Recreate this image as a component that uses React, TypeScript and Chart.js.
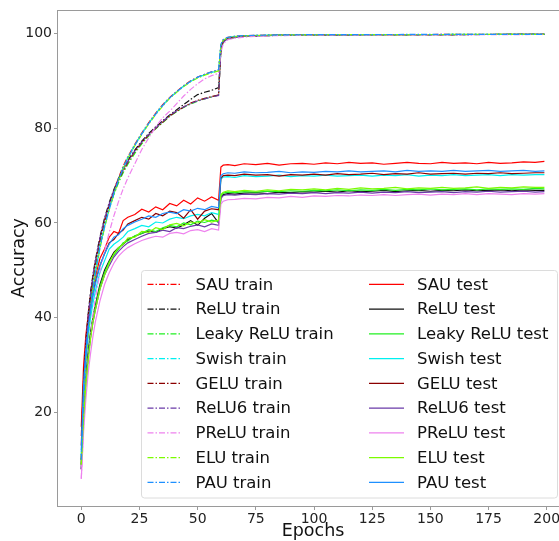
import React, { useEffect, useRef } from 'react';
import { Chart, registerables } from 'chart.js';

Chart.register(...registerables);

const FONT = '"DejaVu Sans", "Liberation Sans", sans-serif';

const EPOCHS = [0, 1, 2, 3, 4, 5, 6, 8, 10, 12, 14, 16, 18, 20, 23, 26, 29, 32, 35, 38, 41, 44, 47, 50, 53, 56, 59,
  60, 61, 63, 66, 70, 75, 80, 85, 90, 95, 100, 105, 110, 115, 120, 125, 130, 135, 140, 145, 150, 155, 160, 165, 170, 175, 180, 185, 190, 195, 199];

const X_TICKS = [0, 25, 50, 75, 100, 125, 150, 175, 200];
const Y_TICKS = [20, 40, 60, 80, 100];

const NAMES = ['SAU', 'ReLU', 'Leaky ReLU', 'Swish', 'GELU', 'ReLU6', 'PReLU', 'ELU', 'PAU'];
const COLORS = ['#ff0000', '#111111', '#22f022', '#00f0f0', '#8b0000', '#6a3aa8', '#ee82ee', '#7cfc00', '#1e90ff'];

// ---- train accuracy ----
const SAU_TRAIN = [15, 27, 34.5, 40, 44.5, 48, 51, 56, 60, 63.5, 66.8, 69.5, 72, 74, 76.6, 79, 81.2, 83.2, 85, 86.5, 87.8, 89, 90, 90.8, 91.4, 91.9, 92.3,
  97.6, 98.7, 99.2, 99.4, 99.55, 99.6, 99.65, 99.7, 99.7, 99.72, 99.74, 99.75, 99.75, 99.76, 99.77, 99.77, 99.78, 99.78, 99.78, 99.79, 99.79, 99.8, 99.8, 99.8, 99.8, 99.8, 99.81, 99.81, 99.81, 99.82, 99.82];
const RELU_TRAIN = [9, 26, 35, 41, 45.5, 49, 52, 57, 61, 64.3, 67, 69.4, 71.5, 73.2, 75.4, 77.3, 78.9, 80.3, 81.6, 82.8, 83.9, 85, 86.1, 87.1, 87.6, 88, 88.6,
  96.5, 98.3, 98.9, 99.2, 99.4, 99.5, 99.55, 99.6, 99.65, 99.68, 99.7, 99.7, 99.72, 99.73, 99.74, 99.75, 99.75, 99.76, 99.76, 99.77, 99.77, 99.78, 99.78, 99.78, 99.79, 99.79, 99.79, 99.8, 99.8, 99.8, 99.8];
const LEAKY_TRAIN = [10, 23, 32, 38.5, 43.3, 47.2, 50.3, 55.5, 59.7, 63.2, 66, 68.5, 70.6, 72.4, 74.7, 76.7, 78.4, 79.9, 81.2, 82.5, 83.5, 84.4, 85.1, 85.7, 86.2, 86.6, 87,
  96.8, 98.4, 99, 99.25, 99.42, 99.52, 99.58, 99.62, 99.66, 99.68, 99.7, 99.71, 99.72, 99.73, 99.74, 99.75, 99.75, 99.76, 99.77, 99.77, 99.78, 99.78, 99.78, 99.79, 99.79, 99.79, 99.8, 99.8, 99.8, 99.8, 99.81];
const SWISH_TRAIN = [11, 24, 32, 38, 42.5, 46, 49.5, 55, 59.3, 63, 66.3, 69.2, 71.7, 73.8, 76.5, 78.9, 81.1, 83.1, 84.9, 86.4, 87.7, 88.9, 89.9, 90.7, 91.3, 91.8, 92.1,
  97.5, 98.6, 99.15, 99.38, 99.52, 99.6, 99.64, 99.68, 99.7, 99.72, 99.73, 99.74, 99.75, 99.76, 99.76, 99.77, 99.77, 99.78, 99.78, 99.79, 99.79, 99.79, 99.8, 99.8, 99.8, 99.8, 99.81, 99.81, 99.81, 99.81, 99.82];
const GELU_TRAIN = [10, 25, 34, 40, 44.8, 48.5, 51.5, 56.5, 60.5, 63.8, 66.6, 69, 71, 72.8, 75.1, 77, 78.6, 80, 81.3, 82.6, 83.6, 84.5, 85.3, 85.9, 86.3, 86.7, 87,
  96.7, 98.4, 99, 99.25, 99.43, 99.52, 99.58, 99.63, 99.66, 99.68, 99.7, 99.71, 99.72, 99.73, 99.74, 99.75, 99.75, 99.76, 99.77, 99.77, 99.78, 99.78, 99.78, 99.79, 99.79, 99.79, 99.8, 99.8, 99.8, 99.8, 99.8];
const RELU6_TRAIN = [8, 25, 34.5, 40.5, 45, 48.8, 51.8, 56.8, 60.8, 64, 66.8, 69.2, 71.2, 73, 75.2, 77.1, 78.7, 80.1, 81.4, 82.7, 83.7, 84.5, 85.2, 85.8, 86.2, 86.6, 86.9,
  96.4, 98.2, 98.9, 99.2, 99.4, 99.5, 99.56, 99.6, 99.64, 99.67, 99.69, 99.7, 99.71, 99.72, 99.73, 99.74, 99.75, 99.75, 99.76, 99.76, 99.77, 99.77, 99.78, 99.78, 99.78, 99.79, 99.79, 99.79, 99.8, 99.8, 99.8];
const PRELU_TRAIN = [6, 17, 25, 31, 36, 40.5, 44, 49.5, 54, 58, 61.5, 64.5, 67.2, 69.5, 72.5, 75.5, 78, 80.3, 82.2, 83.6, 85.2, 86.8, 88.2, 89.4, 90.4, 91.1, 91.6,
  96, 97.8, 98.7, 99, 99.25, 99.4, 99.5, 99.55, 99.6, 99.62, 99.65, 99.67, 99.68, 99.7, 99.71, 99.72, 99.73, 99.73, 99.74, 99.75, 99.75, 99.76, 99.76, 99.77, 99.77, 99.77, 99.78, 99.78, 99.78, 99.79, 99.79];
const ELU_TRAIN = [9, 22, 30.5, 36.5, 41.5, 45.5, 49, 54.5, 59, 62.8, 66, 68.9, 71.5, 73.6, 76.3, 78.7, 80.9, 82.9, 84.7, 86.3, 87.6, 88.8, 89.8, 90.6, 91.2, 91.7, 92.1,
  97.4, 98.6, 99.1, 99.36, 99.5, 99.58, 99.63, 99.67, 99.7, 99.71, 99.73, 99.74, 99.75, 99.75, 99.76, 99.77, 99.77, 99.78, 99.78, 99.79, 99.79, 99.79, 99.8, 99.8, 99.8, 99.8, 99.81, 99.81, 99.81, 99.81, 99.81];
const PAU_TRAIN = [10, 23, 31.5, 37.5, 42, 45.8, 49.2, 54.8, 59.2, 62.9, 66.2, 69.1, 71.6, 73.7, 76.4, 78.8, 81, 83, 84.8, 86.4, 87.7, 88.9, 89.9, 90.8, 91.4, 91.9, 92.4,
  97.7, 98.7, 99.2, 99.42, 99.56, 99.62, 99.66, 99.7, 99.72, 99.74, 99.75, 99.76, 99.77, 99.77, 99.78, 99.78, 99.79, 99.79, 99.8, 99.8, 99.8, 99.81, 99.81, 99.81, 99.82, 99.82, 99.82, 99.82, 99.83, 99.83, 99.83];

// ---- test accuracy ----
const SAU_TEST = [17, 30, 36.5, 40.5, 44, 46.5, 48.5, 52.5, 54.5, 57, 58.2, 57.8, 60.5, 61.2, 61.8, 62.9, 62.3, 63.4, 62.8, 64.1, 63.6, 64.8, 64, 65.3, 64.6, 65.5, 64.8,
  71.8, 72.2, 72.3, 72.1, 72.5, 72.3, 72.6, 72.2, 72.5, 72.6, 72.4, 72.7, 72.5, 72.8, 72.6, 72.7, 72.4, 72.6, 72.8, 72.6, 72.5, 72.8, 72.6, 72.7, 72.5, 72.8, 72.6, 72.7, 72.9, 72.8, 73];
const RELU_TEST = [8, 21, 28, 33, 37, 40, 42.5, 47, 50, 52, 53.8, 54.8, 55.5, 56.5, 57.2, 57.8, 58.3, 58, 58.8, 59.2, 58.9, 59.6, 60.5, 59.5, 61, 62, 60,
  65.5, 66, 66.2, 66.1, 66.3, 66.4, 66.2, 66.5, 66.4, 66.6, 66.5, 66.7, 66.5, 66.8, 66.6, 66.7, 66.9, 66.6, 66.8, 66.9, 66.7, 66.9, 66.8, 67, 66.8, 66.9, 67, 66.8, 67, 66.9, 66.9];
const LEAKY_TEST = [10, 20, 27, 32, 36, 39.5, 42, 46.5, 49.5, 51.8, 53.2, 54.5, 55.8, 56.2, 57.3, 57.8, 58.6, 58.2, 59, 59.5, 59.2, 60, 59.6, 60.4, 60.1, 60.6, 60.3,
  65.8, 66.3, 66.5, 66.4, 66.6, 66.5, 66.7, 66.6, 66.8, 66.7, 66.9, 66.8, 67, 66.8, 67, 66.9, 67.1, 66.9, 67.1, 67, 67.2, 67, 67.1, 67.2, 67, 67.2, 67.1, 67.2, 67.1, 67.3, 67.2];
const SWISH_TEST = [11, 24, 31, 36, 40, 43, 45.5, 49.5, 52, 54.5, 55.5, 56.2, 57, 58.2, 58.8, 59.5, 59.2, 60.2, 60, 60.8, 61.2, 60.9, 61.5, 61.8, 61.5, 62.2, 61.8,
  69.3, 69.7, 69.8, 69.6, 70, 69.8, 69.9, 70.1, 69.8, 70, 69.9, 70.1, 69.9, 70, 70.1, 69.9, 70.1, 70, 70.2, 69.9, 70.1, 70, 70.2, 70, 70.1, 70.2, 70, 70.2, 70.1, 70.2, 70.2];
const GELU_TEST = [13, 27, 34, 38.5, 42, 45, 47.5, 51, 53.5, 55.8, 56.5, 57.8, 58.5, 59.8, 60.5, 61.2, 60.8, 62, 61.5, 62.5, 62.2, 61, 62.8, 60.8, 62.5, 63, 62.8,
  69.5, 70, 70.1, 70, 70.3, 70.1, 70.2, 69.9, 70.2, 70.1, 70.3, 70.1, 70.4, 70.2, 70.3, 70.5, 70.2, 70.4, 70.3, 70.6, 70.3, 70.4, 70.5, 70.3, 70.5, 70.4, 70.6, 70.4, 70.5, 70.6, 70.6];
const RELU6_TEST = [9, 20, 27, 32, 36, 39, 41.5, 46, 49, 51, 52.8, 54, 55, 55.8, 56.5, 57.2, 57.8, 58, 58.5, 58.2, 59, 58.8, 59.3, 59.6, 59.2, 59.8, 59.5,
  65.2, 65.8, 66, 65.9, 66.1, 66, 66.2, 66.1, 66.3, 66.2, 66.4, 66.2, 66.4, 66.3, 66.5, 66.3, 66.5, 66.4, 66.6, 66.4, 66.5, 66.6, 66.4, 66.6, 66.5, 66.7, 66.5, 66.6, 66.7, 66.5, 66.6];
const PRELU_TEST = [6, 16, 23, 28.5, 32.5, 36, 39, 43.5, 47, 49.5, 51.5, 53, 54, 54.8, 55.6, 56.3, 56.8, 57.2, 57, 57.8, 58, 57.7, 58.4, 58.6, 58.2, 58.8, 58.5,
  64, 64.6, 64.9, 65, 65.2, 65.1, 65.4, 65.3, 65.6, 65.4, 65.7, 65.6, 65.8, 65.7, 65.9, 65.8, 66, 65.8, 66, 66.1, 65.9, 66.1, 66, 66.2, 66, 66.2, 66.1, 66, 66.2, 66.1, 66.2];
const ELU_TEST = [9, 19, 26, 31, 35.5, 39, 41.5, 46, 49, 51.5, 53.5, 54.8, 55.5, 56.8, 57, 58.2, 58, 59, 58.6, 59.6, 59.9, 59.4, 60.2, 60, 60.7, 60.2, 60.6,
  66, 66.5, 66.8, 66.6, 66.9, 66.7, 67, 66.8, 67.1, 67, 67.2, 67, 67.3, 67.1, 67.4, 67.2, 67.3, 67.5, 67.2, 67.4, 67.3, 67.5, 67.3, 67.4, 67.6, 67.3, 67.5, 67.4, 67.6, 67.5, 67.5];
const PAU_TEST = [12, 26, 33, 38, 41.5, 44.5, 47, 51, 53.5, 55.5, 57, 57.5, 58.8, 59.5, 60.2, 60.8, 61.5, 61.2, 62, 62.3, 62, 62.8, 62.5, 63.1, 62.8, 63.5, 63.2,
  70, 70.4, 70.6, 70.5, 70.8, 70.6, 70.7, 70.9, 70.6, 70.8, 70.7, 70.9, 70.8, 71, 70.8, 70.9, 71, 70.8, 71.1, 70.9, 71, 70.9, 71.1, 70.9, 71, 71.1, 70.9, 71, 71.1, 70.9, 71];

const TRAIN = [SAU_TRAIN, RELU_TRAIN, LEAKY_TRAIN, SWISH_TRAIN, GELU_TRAIN, RELU6_TRAIN, PRELU_TRAIN, ELU_TRAIN, PAU_TRAIN];
const TEST = [SAU_TEST, RELU_TEST, LEAKY_TEST, SWISH_TEST, GELU_TEST, RELU6_TEST, PRELU_TEST, ELU_TEST, PAU_TEST];

const DASHDOT = [6, 2, 1.5, 2];
const LW = 1.2;

export default function App() {
  const ref = useRef<HTMLCanvasElement>(null);

  useEffect(() => {
    document.body.style.margin = '0';
    const canvas = ref.current;
    if (!canvas) return;

    const datasets: any[] = [];
    NAMES.forEach((name, i) => {
      datasets.push({
        label: name + ' train',
        data: EPOCHS.map((e, k) => ({ x: e, y: TRAIN[i][k] })),
        borderColor: COLORS[i],
        borderWidth: LW,
        borderDash: DASHDOT,
        pointRadius: 0,
        fill: false,
        tension: 0,
      });
      datasets.push({
        label: name + ' test',
        data: EPOCHS.map((e, k) => ({ x: e, y: TEST[i][k] })),
        borderColor: COLORS[i],
        borderWidth: LW,
        pointRadius: 0,
        fill: false,
        tension: 0,
      });
    });
    const n = datasets.length;
    datasets.forEach((d, i) => (d.order = n - i));

    const decor = {
      id: 'decor',
      afterDraw(chart: any) {
        const ctx = chart.ctx;
        const a = chart.chartArea;
        ctx.save();
        // frame
        ctx.strokeStyle = '#9a9a9a';
        ctx.lineWidth = 1;
        ctx.strokeRect(a.left - 0.5, a.top - 0.5, a.right - a.left + 1, a.bottom - a.top + 1);

        // axis titles
        ctx.fillStyle = '#111';
        ctx.font = `17.5px ${FONT}`;
        ctx.textAlign = 'center';
        ctx.textBaseline = 'middle';
        ctx.fillText('Epochs', 313, 531);
        ctx.save();
        ctx.translate(19, 258);
        ctx.rotate(-Math.PI / 2);
        ctx.fillText('Accuracy', 0, 0);
        ctx.restore();

        // legend box
        const bx = 141.5, by = 270.5, bw = 416, bh = 227.5, r = 3;
        ctx.beginPath();
        ctx.moveTo(bx + r, by);
        ctx.lineTo(bx + bw - r, by);
        ctx.quadraticCurveTo(bx + bw, by, bx + bw, by + r);
        ctx.lineTo(bx + bw, by + bh - r);
        ctx.quadraticCurveTo(bx + bw, by + bh, bx + bw - r, by + bh);
        ctx.lineTo(bx + r, by + bh);
        ctx.quadraticCurveTo(bx, by + bh, bx, by + bh - r);
        ctx.lineTo(bx, by + r);
        ctx.quadraticCurveTo(bx, by, bx + r, by);
        ctx.closePath();
        ctx.fillStyle = 'rgba(255,255,255,0.85)';
        ctx.fill();
        ctx.strokeStyle = '#dcdcdc';
        ctx.stroke();

        ctx.font = `16.5px ${FONT}`;
        ctx.textAlign = 'left';
        ctx.textBaseline = 'middle';
        NAMES.forEach((name, i) => {
          const y = 284.3 + i * 24.75;
          // train sample
          ctx.strokeStyle = COLORS[i];
          ctx.lineWidth = LW;
          ctx.setLineDash(DASHDOT);
          ctx.beginPath();
          ctx.moveTo(147.5, y);
          ctx.lineTo(182, y);
          ctx.stroke();
          // test sample
          ctx.setLineDash([]);
          ctx.beginPath();
          ctx.moveTo(369, y);
          ctx.lineTo(404, y);
          ctx.stroke();
          ctx.fillStyle = '#111';
          ctx.fillText(name + ' train', 195.5, y + 1);
          ctx.fillText(name + ' test', 417, y + 1);
        });
        ctx.restore();
      },
    };

    const chart = new Chart(canvas, {
      type: 'line',
      data: { datasets },
      options: {
        animation: false,
        responsive: false,
        devicePixelRatio: 1,
        layout: { padding: { left: 0, top: 11, right: 3, bottom: 0 } },
        plugins: { legend: { display: false }, tooltip: { enabled: false } },
        scales: {
          x: {
            type: 'linear',
            min: -10,
            max: 210,
            afterBuildTicks: (s: any) => {
              s.ticks = X_TICKS.map((v) => ({ value: v }));
            },
            afterFit: (s: any) => {
              s.height = 35;
            },
            ticks: { font: { family: FONT, size: 14 }, color: '#222', padding: 1, maxRotation: 0, autoSkip: false },
            grid: { drawOnChartArea: false, tickLength: 4, color: '#9a9a9a' },
            border: { display: false },
          },
          y: {
            type: 'linear',
            min: 0.25,
            max: 104.75,
            afterBuildTicks: (s: any) => {
              s.ticks = Y_TICKS.map((v) => ({ value: v }));
            },
            afterFit: (s: any) => {
              s.width = 58;
            },
            ticks: { font: { family: FONT, size: 14 }, color: '#222', padding: 2, autoSkip: false },
            grid: { drawOnChartArea: false, tickLength: 4, color: '#9a9a9a' },
            border: { display: false },
          },
        },
      },
      plugins: [decor],
    } as any);

    return () => chart.destroy();
  }, []);

  return (
    <div style={{ width: 559, height: 541, overflow: 'hidden', position: 'relative', background: '#fff' }}>
      <canvas ref={ref} width={573} height={541} style={{ display: 'block', width: 573, height: 541 }} />
    </div>
  );
}
